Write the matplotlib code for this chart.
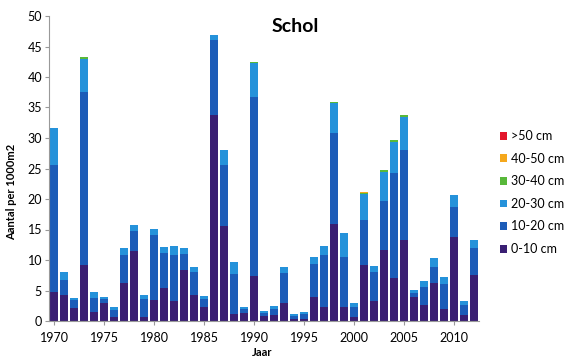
import numpy as np
import matplotlib
matplotlib.use('Agg')
import matplotlib.pyplot as plt

plt.rcParams['font.family'] = ['Lato', 'DejaVu Sans']

years = np.arange(1970, 2013)

# Aantal per 1000m2 per lengteklasse
cm_0_10 = [4.7, 4.2, 2.2, 9.1, 1.4, 3.0, 0.6, 6.2, 11.4, 0.7,
           3.5, 5.4, 3.2, 8.4, 4.3, 2.3, 33.8, 15.5, 1.2, 1.3,
           7.3, 0.8, 1.0, 3.0, 0.3, 0.4, 4.0, 2.3, 15.9, 2.3,
           0.7, 9.2, 3.2, 11.7, 7.1, 13.3, 4.0, 2.6, 6.3, 2.0,
           13.8, 1.0, 7.5]
cm_10_20 = [20.9, 2.5, 1.2, 28.5, 2.3, 0.6, 1.2, 4.7, 3.4, 2.9,
            10.6, 5.8, 7.6, 2.6, 3.8, 1.3, 12.3, 10.0, 6.5, 0.6,
            29.4, 0.5, 1.0, 4.9, 0.6, 0.7, 5.3, 8.5, 15.0, 8.2,
            1.6, 7.4, 4.8, 8.0, 17.2, 14.7, 0.6, 3.0, 2.5, 4.0,
            4.9, 1.7, 4.5]
cm_20_30 = [6.0, 1.3, 0.4, 5.3, 1.0, 0.4, 0.5, 1.0, 1.0, 0.6,
            1.0, 1.0, 1.5, 1.0, 0.8, 0.5, 0.8, 2.6, 1.9, 0.35,
            5.6, 0.3, 0.5, 1.0, 0.3, 0.3, 1.2, 1.5, 4.9, 4.0,
            0.6, 4.2, 1.0, 4.8, 5.1, 5.4, 0.5, 1.0, 1.5, 1.2,
            2.0, 0.5, 1.3]
cm_30_40 = [0, 0, 0, 0.4, 0, 0, 0, 0, 0, 0,
            0, 0, 0, 0, 0, 0, 0, 0, 0, 0,
            0.2, 0, 0, 0, 0, 0, 0, 0, 0.1, 0,
            0, 0.2, 0, 0.3, 0.3, 0.3, 0, 0, 0, 0,
            0, 0, 0]
cm_40_50 = [0] * 31 + [0.1] + [0] * 11
cm_50 = [0] * 43

series = [('0-10 cm', cm_0_10, '#3a1f73'),
          ('10-20 cm', cm_10_20, '#1c5cb8'),
          ('20-30 cm', cm_20_30, '#2592da'),
          ('30-40 cm', cm_30_40, '#58b83a'),
          ('40-50 cm', cm_40_50, '#f5a81c'),
          ('>50 cm', cm_50, '#e3162b')]

fig = plt.figure(figsize=(5.74, 3.61), dpi=100)
ax = fig.add_axes([49 / 574, 40 / 361, 430 / 574, 305 / 361])

bottom = np.zeros(len(years))
handles = []
for label, vals, color in series:
    vals = np.array(vals, dtype=float)
    h = ax.bar(years, vals, width=0.72, bottom=bottom, color=color,
               label=label, linewidth=0)
    handles.append(h)
    bottom += vals

ax.set_xlim(1969.5, 2012.5)
ax.set_ylim(0, 50)
ax.set_yticks(np.arange(0, 51, 5))
ax.set_xticks(np.arange(1970, 2011, 5))
ax.tick_params(axis='both', labelsize=9, color='#999999', length=3,
               direction='out', pad=2)
ax.tick_params(axis='x', pad=5)
for s in ['top', 'right']:
    ax.spines[s].set_visible(False)
for s in ['left', 'bottom']:
    ax.spines[s].set_color('#999999')
    ax.spines[s].set_linewidth(0.8)

fig.text(295 / 574, 1 - 26 / 361, 'Schol', ha='center', va='center',
         fontsize=14, fontweight='bold')
fig.text(12 / 574, 1 - 192 / 361, 'Aantal per 1000m2', rotation=90,
         ha='center', va='center', fontsize=8, fontweight='bold')
fig.text(262 / 574, 1 - 353 / 361, 'Jaar', ha='center', va='center',
         fontsize=8, fontweight='bold')

fig.legend(handles[::-1], [s[0] for s in series][::-1],
           loc='upper left', bbox_to_anchor=(500 / 574, 1 - 130 / 361),
           frameon=False, fontsize=9, handlelength=0.6, handleheight=0.6,
           handletextpad=0.3, labelspacing=0.85, borderpad=0,
           borderaxespad=0)

fig.savefig('out.png', dpi=100, facecolor='white')
